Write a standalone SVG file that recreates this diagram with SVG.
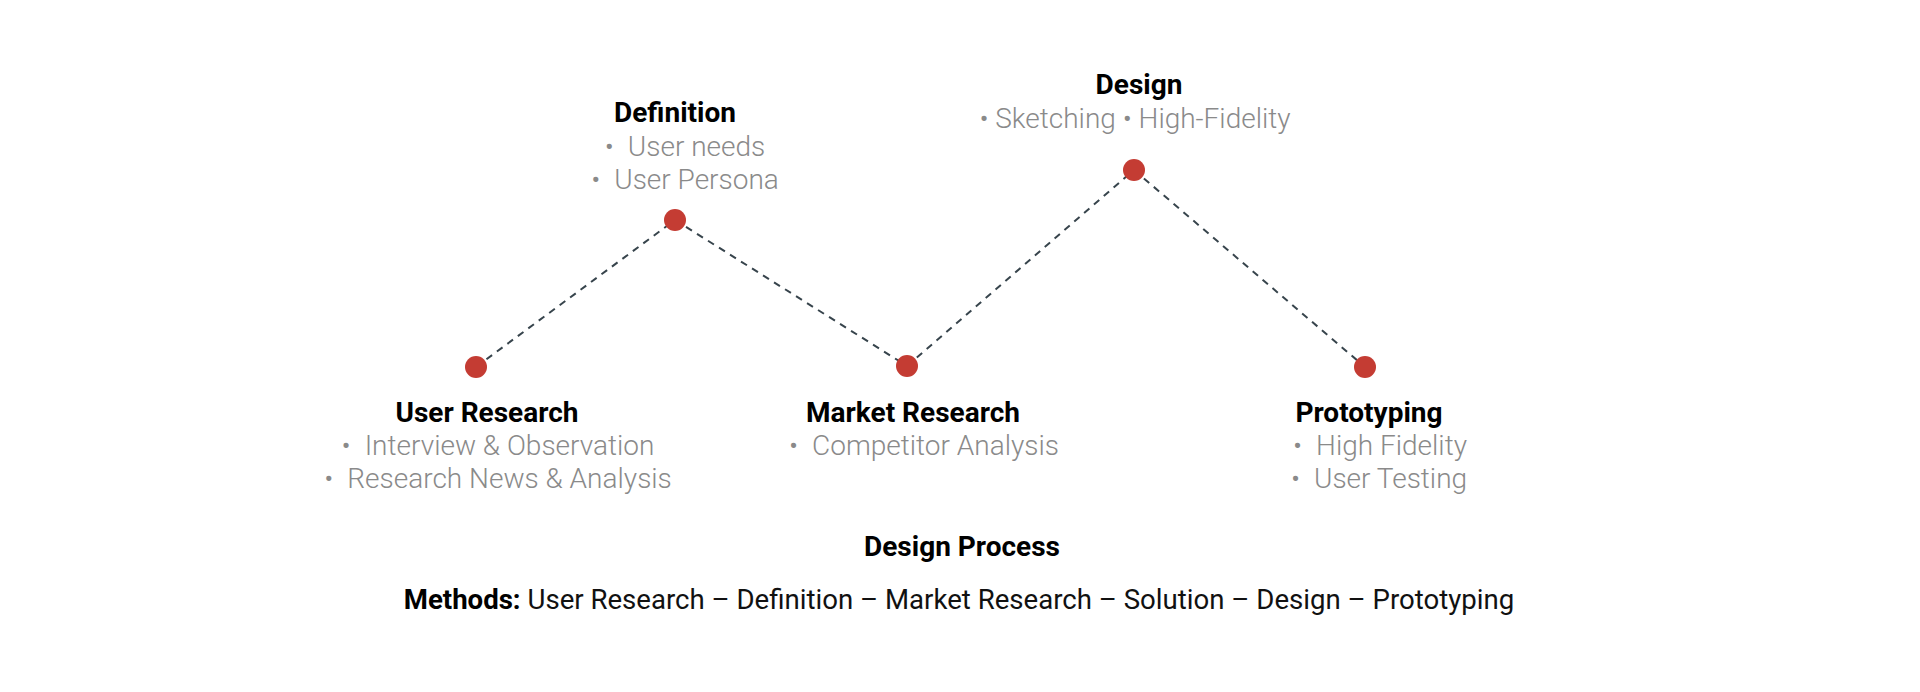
<svg xmlns="http://www.w3.org/2000/svg" width="1920" height="692" viewBox="0 0 1920 692">
<style>
text{font-family:Roboto,"Liberation Sans",sans-serif;}
.t{font-size:28px;font-weight:700;fill:#000;text-anchor:middle;}
.g{font-size:28px;font-weight:300;fill:#8a8a8a;text-anchor:middle;}
.dot{fill:#c43c33;}
.c{stroke:#37444c;stroke-width:2;stroke-dasharray:7 6;fill:none;}
.m{font-size:27.6px;font-weight:400;fill:#111;text-anchor:middle;}
</style>
<rect width="1920" height="692" fill="#fff"/>
<g id="connectors">
<line class="c" x1="476" y1="367" x2="675" y2="220"/>
<line class="c" x1="675" y1="220" x2="907" y2="366"/>
<line class="c" x1="907" y1="366" x2="1134" y2="170"/>
<line class="c" x1="1134" y1="170" x2="1365" y2="367"/>
</g>
<g id="user-research">
<circle class="dot" cx="476" cy="367" r="11"/>
<text class="t" x="487" y="422">User Research</text>
<text class="g" x="498" y="455">•<tspan dx="14">Interview &amp; Observation</tspan></text>
<text class="g" x="498" y="488">•<tspan dx="14">Research News &amp; Analysis</tspan></text>
</g>
<g id="definition">
<circle class="dot" cx="675" cy="220" r="11"/>
<text class="t" x="675" y="122">Definition</text>
<text class="g" x="685" y="156">•<tspan dx="14">User needs</tspan></text>
<text class="g" x="685" y="189">•<tspan dx="14">User Persona</tspan></text>
</g>
<g id="market-research">
<circle class="dot" cx="907" cy="366" r="11"/>
<text class="t" x="913" y="422">Market Research</text>
<text class="g" x="924" y="455">•<tspan dx="14">Competitor Analysis</tspan></text>
</g>
<g id="design">
<circle class="dot" cx="1134" cy="170" r="11"/>
<text class="t" x="1139" y="94">Design</text>
<text class="g" x="1135" y="128">• Sketching • High-Fidelity</text>
</g>
<g id="prototyping">
<circle class="dot" cx="1365" cy="367" r="11"/>
<text class="t" x="1369" y="422">Prototyping</text>
<text class="g" x="1380" y="455">•<tspan dx="14">High Fidelity</tspan></text>
<text class="g" x="1379" y="488">•<tspan dx="14">User Testing</tspan></text>
</g>
<g id="caption">
<text class="t" x="962" y="556">Design Process</text>
<text class="m" x="959" y="609"><tspan font-weight="700" fill="#000">Methods:</tspan> User Research – Definition – Market Research – Solution – Design – Prototyping</text>
</g>
</svg>
